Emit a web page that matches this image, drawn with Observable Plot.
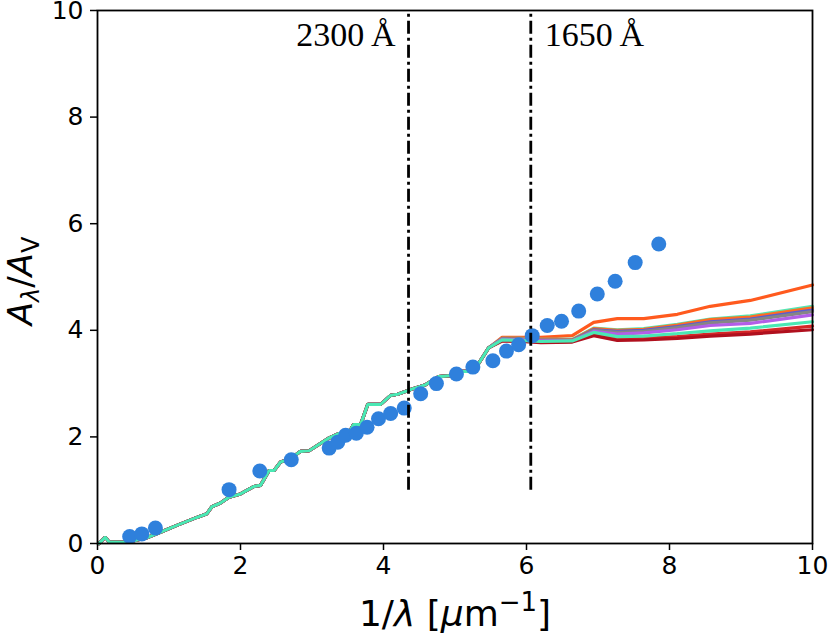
<!DOCTYPE html>
<html>
<head>
<meta charset="utf-8">
<script src="https://cdn.jsdelivr.net/npm/d3@7"></script>
<script src="https://cdn.jsdelivr.net/npm/@observablehq/plot@0.6"></script>
<style>
  html, body { margin: 0; padding: 0; background: white; }
  #chart { width: 830px; height: 638px; }
</style>
</head>
<body>
<div id="chart"></div>
<script>
// Observed points (blue dots)
const obsX = [0.45,0.62,0.81,1.84,2.27,2.71,3.24,3.36,3.47,3.62,3.77,3.93,4.10,4.29,4.52,4.74,5.02,5.25,5.53,5.72,5.89,6.08,6.29,6.49,6.73,6.99,7.24,7.52,7.85];
const obsY = [0.13,0.18,0.29,1.01,1.36,1.57,1.79,1.90,2.03,2.07,2.18,2.34,2.44,2.54,2.81,3.00,3.18,3.31,3.43,3.61,3.73,3.90,4.09,4.17,4.36,4.68,4.92,5.27,5.62];

// Shared part of all model curves
const baseX = [0.02,0.11,0.16,0.41,0.69,0.88,1.11,1.39,1.53,1.60,1.72,1.84,2.00,2.19,2.28,2.40,2.47,2.56,2.70,2.84,2.96,3.24,3.37,3.51,3.58,3.68,3.78,3.96,4.10,4.20,4.40,4.59,4.77,4.94,5.10,5.26,5.47];
const baseY = [0.00,0.12,0.03,0.02,0.11,0.21,0.34,0.49,0.56,0.69,0.76,0.87,0.93,1.07,1.09,1.37,1.37,1.53,1.59,1.73,1.74,1.98,2.06,2.06,2.23,2.23,2.61,2.61,2.78,2.80,2.90,2.98,3.13,3.15,3.23,3.23,3.67];

// Diverging tails of the model curves
const tailX = [5.66,5.92,6.20,6.64,6.94,7.27,7.64,8.11,8.57,9.13,10.0];
const seriesNames  = ["m1","m2","m3","m4","m5","m6","m7","m8","m9"];
const seriesColors = ["#ff5a1e","#55e6b2","#ff6b22","#5c5ad2","#858585","#b35ee8","#d62728","#b0101e","#4ae8b4"];
const tailM1 = [3.87,3.87,3.87,3.90,4.15,4.22,4.22,4.30,4.45,4.56,4.85];
const tailM2 = [3.85,3.85,3.83,3.83,4.04,4.01,4.03,4.11,4.21,4.27,4.45];
const tailM3 = [3.85,3.84,3.82,3.82,4.03,4.00,4.02,4.10,4.20,4.25,4.42];
const tailM4 = [3.84,3.83,3.81,3.81,4.01,3.98,4.00,4.07,4.16,4.21,4.38];
const tailM5 = [3.84,3.83,3.81,3.81,4.00,3.96,3.98,4.05,4.14,4.19,4.35];
const tailM6 = [3.83,3.82,3.80,3.80,3.98,3.93,3.95,4.01,4.09,4.13,4.29];
const tailM7 = [3.81,3.80,3.78,3.79,3.93,3.84,3.85,3.88,3.93,3.97,4.08];
const tailM8 = [3.80,3.79,3.77,3.78,3.90,3.81,3.82,3.85,3.89,3.93,4.01];
const tailM9 = [3.82,3.81,3.79,3.80,3.96,3.88,3.89,3.94,3.99,4.04,4.16];
const tails = [tailM1,tailM2,tailM3,tailM4,tailM5,tailM6,tailM7,tailM8,tailM9];

// Reference wavelengths
const refX = [4.35, 6.06];
const refLabels = ["2300\u2009Å", "1650\u2009Å"];
const ticks = [0,2,4,6,8,10];

// Build tables
const obs = obsX.map((x,i) => ({x, y: obsY[i]}));
const curves = [];
seriesNames.forEach((name, s) => {
  baseX.forEach((x,i) => curves.push({name, x, y: baseY[i]}));
  tailX.forEach((x,i) => curves.push({name, x, y: tails[s][i]}));
});
const refs = refX.map((x,i) => ({x, label: refLabels[i]}));

const plot = Plot.plot({
  width: 830,
  height: 638,
  marginLeft: 97,
  marginRight: 18,
  marginTop: 10,
  marginBottom: 95,
  style: {fontFamily: "DejaVu Sans", fontSize: "25px", color: "black", background: "white"},
  x: {domain: [0,10]},
  y: {domain: [0,10]},
  color: {domain: seriesNames, range: seriesColors},
  marks: [
    Plot.line(curves, {x: "x", y: "y", z: "name", stroke: "name", strokeWidth: 3.2, strokeLinejoin: "miter"}),
    Plot.dot(obs, {x: "x", y: "y", r: 7.5, fill: "#2f80dc", stroke: "none"}),
    Plot.ruleX(refs, {x: "x", y1: 1, y2: 10, stroke: "black", strokeWidth: 2.8, strokeDasharray: "13,4,3,4"}),
    Plot.text(refs.slice(0,1), {x: "x", y: 9.54, text: "label", textAnchor: "end", dx: -13, fontSize: 34, fontFamily: "Liberation Serif"}),
    Plot.text(refs.slice(1), {x: "x", y: 9.54, text: "label", textAnchor: "start", dx: 14, fontSize: 34, fontFamily: "Liberation Serif"}),
    Plot.axisX({ticks, tickSize: 7, tickPadding: 6, label: null, strokeWidth: 1.5}),
    Plot.axisY({ticks, tickSize: 7, tickPadding: 7, label: null, strokeWidth: 1.5}),
    Plot.frame({stroke: "black", strokeWidth: 1.8})
  ]
});
document.getElementById("chart").appendChild(plot);

// Axis titles with math formatting
const svg = d3.select(plot);
const xl = svg.append("text")
  .attr("x", 455).attr("y", 626)
  .attr("text-anchor", "middle")
  .attr("font-family", "DejaVu Sans")
  .attr("font-size", 36)
  .attr("fill", "black");
xl.append("tspan").text("1/");
xl.append("tspan").attr("font-style", "italic").text("λ");
xl.append("tspan").text(" [");
xl.append("tspan").attr("font-style", "italic").text("μ");
xl.append("tspan").text("m");
xl.append("tspan").attr("font-size", 26).attr("dy", -15).text("−1");
xl.append("tspan").attr("dy", 15).text("]");

const yl = svg.append("text")
  .attr("transform", "translate(32,281) rotate(-90)")
  .attr("text-anchor", "middle")
  .attr("font-family", "DejaVu Sans")
  .attr("font-size", 34)
  .attr("fill", "black");
yl.append("tspan").attr("font-style", "italic").text("A");
yl.append("tspan").attr("font-style", "italic").attr("font-size", 24).attr("dy", 7).text("λ");
yl.append("tspan").attr("dy", -7).text("/");
yl.append("tspan").attr("font-style", "italic").text("A");
yl.append("tspan").attr("font-size", 24).attr("dy", 7).text("V");
</script>
</body>
</html>
